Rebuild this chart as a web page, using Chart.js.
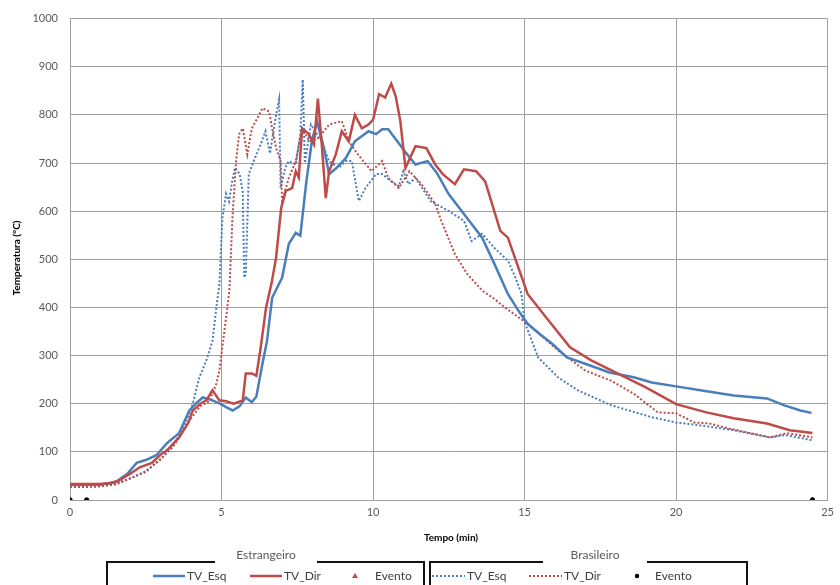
<!DOCTYPE html>
<html>
<head>
<meta charset="utf-8">
<script src="https://cdn.jsdelivr.net/npm/chart.js@4.4.1/dist/chart.umd.min.js"></script>
<style>
  body { margin: 0; background: #fff; }
  #wrap { width: 840px; height: 585px; position: relative; }
</style>
</head>
<body>
<div id="wrap"><canvas id="chart"></canvas></div>
<script>
// Tempo (min) / temperatura (°C)
// Estrangeiro - TV_Esq
const tEsqEst = [0, 0.5, 1.0, 1.5, 1.9, 2.2, 2.5, 2.85, 3.2, 3.6, 3.94, 4.15, 4.38, 4.7, 4.95, 5.15, 5.37, 5.6, 5.8, 6.0, 6.15, 6.35, 6.5, 6.67, 7.0, 7.22, 7.45, 7.6, 7.8, 7.98, 8.15, 8.38, 8.55, 8.8, 9.1, 9.4, 9.85, 10.1, 10.3, 10.5, 10.8, 11.1, 11.4, 11.8, 12.1, 12.5, 13.0, 13.6, 14.0, 14.45, 14.8, 15.1, 15.5, 15.9, 16.4, 17.0, 17.8, 18.6, 19.2, 20.0, 20.8, 21.9, 23.0, 23.55, 24.1, 24.47];
const vEsqEst = [31, 31, 32, 37, 55, 77, 83, 93, 118, 139, 186, 200, 213, 207, 200, 193, 186, 195, 213, 203, 215, 283, 330, 420, 462, 532, 555, 549, 662, 745, 787, 731, 677, 690, 710, 745, 766, 760, 770, 770, 745, 720, 697, 704, 680, 635, 594, 545, 491, 428, 393, 366, 345, 325, 296, 283, 265, 255, 244, 236, 228, 217, 211, 197, 186, 181];
// Estrangeiro - TV_Dir
const tDirEst = [0, 0.5, 1.0, 1.3, 1.6, 2.0, 2.3, 2.7, 3.0, 3.2, 3.6, 3.9, 4.05, 4.3, 4.5, 4.7, 4.93, 5.15, 5.4, 5.7, 5.8, 6.0, 6.15, 6.3, 6.47, 6.65, 6.8, 6.97, 7.12, 7.33, 7.45, 7.55, 7.66, 7.88, 8.05, 8.18, 8.3, 8.44, 8.55, 8.77, 8.97, 9.2, 9.4, 9.63, 9.85, 10.0, 10.2, 10.4, 10.6, 10.75, 10.9, 11.07, 11.4, 11.76, 12.05, 12.3, 12.7, 13.0, 13.4, 13.7, 14.0, 14.2, 14.45, 14.8, 15.1, 15.7, 16.5, 17.2, 18.1, 19.0, 20.0, 21.0, 21.9, 23.0, 23.75, 24.5];
const vDirEst = [33, 33, 33, 35, 40, 55, 68, 77, 95, 103, 130, 160, 186, 200, 207, 228, 207, 205, 200, 207, 263, 263, 258, 320, 400, 450, 503, 607, 642, 648, 683, 670, 772, 760, 739, 834, 745, 627, 683, 718, 766, 745, 800, 772, 780, 790, 843, 836, 865, 838, 787, 690, 735, 731, 697, 677, 656, 687, 683, 662, 600, 559, 545, 482, 428, 380, 317, 290, 262, 234, 199, 182, 170, 159, 145, 139];
// Brasileiro - TV_Esq
const tEsqBra = [0, 0.5, 1.0, 1.3, 1.7, 2.1, 2.5, 2.95, 3.4, 3.8, 3.94, 4.05, 4.27, 4.5, 4.7, 4.83, 4.93, 5.03, 5.15, 5.25, 5.35, 5.45, 5.6, 5.7, 5.75, 5.8, 5.9, 6.1, 6.3, 6.45, 6.6, 6.8, 6.9, 6.95, 7.1, 7.22, 7.45, 7.6, 7.68, 7.75, 7.95, 8.3, 8.55, 8.87, 9.1, 9.3, 9.53, 9.75, 10.1, 10.3, 10.6, 10.85, 11.0, 11.17, 11.4, 11.9, 12.5, 13.0, 13.25, 13.6, 14.0, 14.45, 14.7, 14.9, 15.0, 15.45, 16.1, 16.75, 17.85, 19.2, 20.0, 20.8, 21.9, 23.1, 23.6, 24.5];
const vEsqBra = [27, 27, 28, 31, 38, 48, 58, 83, 110, 159, 180, 200, 255, 290, 330, 400, 449, 586, 636, 620, 662, 690, 677, 640, 462, 470, 677, 710, 740, 766, 720, 800, 832, 648, 690, 704, 697, 760, 873, 700, 780, 745, 704, 690, 704, 704, 621, 648, 677, 677, 662, 652, 683, 656, 669, 621, 600, 580, 538, 553, 524, 497, 462, 428, 370, 296, 255, 228, 197, 172, 161, 155, 145, 130, 135, 124];
// Brasileiro - TV_Dir
const tDirBra = [0, 0.5, 1.0, 1.5, 2.0, 2.5, 3.0, 3.5, 4.0, 4.3, 4.6, 4.83, 4.93, 5.15, 5.26, 5.36, 5.48, 5.58, 5.7, 5.85, 6.0, 6.2, 6.35, 6.57, 6.67, 6.8, 6.95, 7.0, 7.22, 7.45, 7.66, 7.9, 8.2, 8.55, 8.97, 9.2, 9.5, 9.95, 10.3, 10.5, 10.85, 11.2, 11.6, 12.05, 12.25, 12.7, 13.1, 13.6, 14.0, 14.35, 15.1, 16.1, 17.0, 17.85, 18.6, 19.4, 20.0, 20.6, 21.1, 21.7, 22.45, 23.1, 23.65, 24.5];
const vDirBra = [28, 28, 29, 32, 45, 60, 85, 120, 170, 195, 205, 242, 269, 379, 435, 586, 704, 760, 772, 718, 772, 795, 814, 807, 772, 731, 704, 621, 669, 704, 772, 745, 752, 780, 787, 745, 718, 683, 704, 669, 648, 683, 656, 615, 580, 511, 470, 435, 418, 400, 366, 311, 269, 248, 221, 182, 180, 161, 159, 149, 139, 130, 139, 130];
// Eventos
const tEventoEst = [0, 24.5];
const vEventoEst = [0, 0];
const tEventoBra = [0, 0.55, 24.5];
const vEventoBra = [0, 0, 0];

const xTicks = [0, 5, 10, 15, 20, 25];

const BLUE = '#4a7ebb';
const RED = '#be4b48';

function pts(t, v) {
    return t.map((x, i) => ({ x: x, y: v[i] }));
}

// axis titles + the two grouped legend boxes
const extraText = {
    id: 'extraText',
    afterDraw(chart) {
        const ctx = chart.ctx;
        ctx.save();
        ctx.fillStyle = '#000';
        ctx.font = 'bold 10px Lato';
        ctx.textAlign = 'center';
        ctx.textBaseline = 'middle';
        ctx.fillText('Tempo (min)', 451, 538);
        ctx.save();
        ctx.translate(17, 258);
        ctx.rotate(-Math.PI / 2);
        ctx.fillText('Temperatura (°C)', 0, 0);
        ctx.restore();

        drawGroup(ctx, 107, 424, 'Estrangeiro', 266, 215, 317, [
            { kind: 'line', x: 153, w: 32, color: BLUE, dash: [], label: 'TV_Esq' },
            { kind: 'line', x: 250, w: 32, color: RED, dash: [], label: 'TV_Dir' },
            { kind: 'tri', x: 355, color: RED, label: 'Evento' }
        ]);
        drawGroup(ctx, 430, 747, 'Brasileiro', 595, 543, 647, [
            { kind: 'line', x: 432, w: 33, color: BLUE, dash: [2, 2], label: 'TV_Esq' },
            { kind: 'line', x: 529, w: 33, color: RED, dash: [2, 2], label: 'TV_Dir' },
            { kind: 'dot', x: 637, color: '#000', label: 'Evento' }
        ]);
        ctx.restore();
    }
};

function drawGroup(ctx, left, right, title, titleX, gapL, gapR, items) {
    const top = 562;
    const itemY = 576;
    ctx.save();
    ctx.strokeStyle = '#111';
    ctx.lineWidth = 2;
    ctx.setLineDash([]);
    ctx.beginPath();
    ctx.moveTo(gapL, top);
    ctx.lineTo(left, top);
    ctx.lineTo(left, 592);
    ctx.moveTo(gapR, top);
    ctx.lineTo(right, top);
    ctx.lineTo(right, 592);
    ctx.stroke();

    ctx.fillStyle = '#595959';
    ctx.font = '12px Lato';
    ctx.textAlign = 'center';
    ctx.textBaseline = 'middle';
    ctx.fillText(title, titleX, 555);

    ctx.textAlign = 'left';
    items.forEach(it => {
        let textX;
        if (it.kind === 'line') {
            ctx.strokeStyle = it.color;
            ctx.lineWidth = it.dash.length ? 2 : 2.5;
            ctx.setLineDash(it.dash);
            ctx.beginPath();
            ctx.moveTo(it.x, itemY);
            ctx.lineTo(it.x + it.w, itemY);
            ctx.stroke();
            ctx.setLineDash([]);
            textX = it.x + it.w + 2;
        } else if (it.kind === 'tri') {
            ctx.fillStyle = it.color;
            ctx.beginPath();
            ctx.moveTo(it.x, itemY - 3);
            ctx.lineTo(it.x + 3, itemY + 2);
            ctx.lineTo(it.x - 3, itemY + 2);
            ctx.closePath();
            ctx.fill();
            textX = it.x + 20;
        } else {
            ctx.fillStyle = it.color;
            ctx.beginPath();
            ctx.arc(it.x, itemY, 2.2, 0, Math.PI * 2);
            ctx.fill();
            textX = it.x + 18;
        }
        ctx.fillStyle = '#404040';
        ctx.fillText(it.label, textX, itemY);
    });
    ctx.restore();
}

const ctx = document.getElementById('chart').getContext('2d');
const myChart = new Chart(ctx, {
    type: 'line',
    data: {
        datasets: [
            {
                label: 'Evento (Brasileiro)',
                data: pts(tEventoBra, vEventoBra),
                showLine: false,
                pointRadius: 2.2,
                pointBackgroundColor: '#000',
                pointBorderColor: '#000',
                order: -2
            },
            {
                label: 'Evento (Estrangeiro)',
                data: pts(tEventoEst, vEventoEst),
                showLine: false,
                pointStyle: 'triangle',
                pointRadius: 3,
                pointBackgroundColor: RED,
                pointBorderColor: RED,
                order: -1
            },
            {
                label: 'TV_Dir (Estrangeiro)',
                data: pts(tDirEst, vDirEst),
                borderColor: RED,
                borderWidth: 2.5,
                pointRadius: 0,
                order: 0
            },
            {
                label: 'TV_Esq (Estrangeiro)',
                data: pts(tEsqEst, vEsqEst),
                borderColor: BLUE,
                borderWidth: 2.5,
                pointRadius: 0,
                order: 1
            },
            {
                label: 'TV_Dir (Brasileiro)',
                data: pts(tDirBra, vDirBra),
                borderColor: RED,
                borderWidth: 2,
                borderDash: [2, 2],
                pointRadius: 0,
                order: 2
            },
            {
                label: 'TV_Esq (Brasileiro)',
                data: pts(tEsqBra, vEsqBra),
                borderColor: BLUE,
                borderWidth: 2,
                borderDash: [2, 2],
                pointRadius: 0,
                order: 3
            }
        ]
    },
    options: {
        responsive: true,
        maintainAspectRatio: false,
        animation: false,
        layout: { padding: { top: 17, right: 9, left: 0, bottom: 0 } },
        plugins: {
            legend: { display: false },
            tooltip: { enabled: false }
        },
        scales: {
            x: {
                type: 'linear',
                min: 0,
                max: 25,
                afterFit: s => { s.height = 85; },
                afterBuildTicks: s => { s.ticks = xTicks.map(v => ({ value: v })); },
                grid: { color: '#a0a0a0', drawTicks: false },
                border: { display: true, color: '#a0a0a0' },
                ticks: {
                    padding: 6,
                    color: '#595959',
                    font: { family: 'Lato', size: 11 },
                    maxRotation: 0,
                    callback: v => String(v)
                }
            },
            y: {
                min: 0,
                max: 1000,
                afterFit: s => { s.width = 70; },
                grid: { color: '#a0a0a0', drawTicks: false },
                border: { display: true, color: '#a0a0a0' },
                ticks: {
                    stepSize: 100,
                    padding: 12,
                    color: '#595959',
                    font: { family: 'Lato', size: 11 },
                    callback: v => String(v)
                }
            }
        }
    },
    plugins: [extraText]
});
</script>
</body>
</html>
